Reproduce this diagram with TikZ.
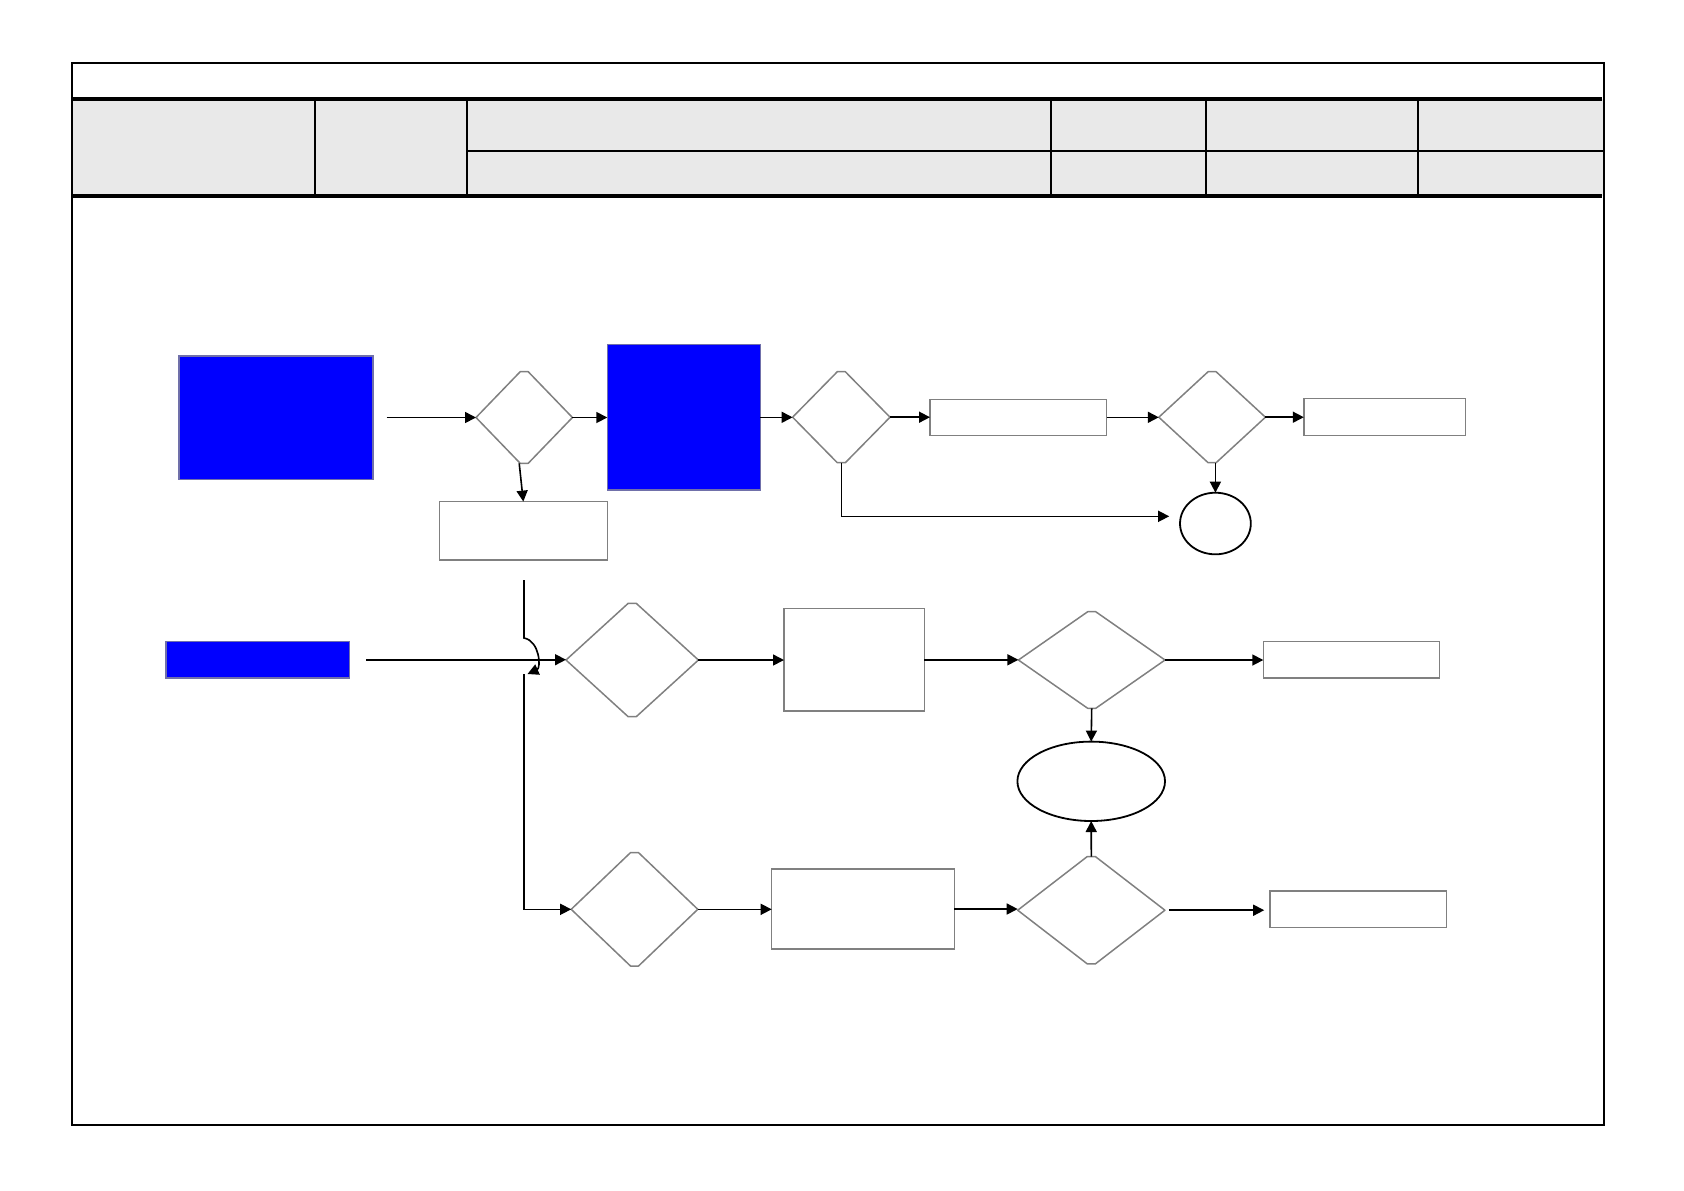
\documentclass[tikz,border=0pt]{standalone}
\usetikzlibrary{shapes.geometric,arrows.meta,calc}
\definecolor{headgray}{RGB}{233,233,233}
\definecolor{nodegray}{RGB}{128,128,128}
\definecolor{bborder}{RGB}{112,112,170}
\definecolor{pureblue}{RGB}{0,0,255}
\begin{document}
\begin{tikzpicture}[x=0.5pt,y=-0.5pt,
  every node/.style={inner sep=0pt, outer sep=0pt},
  bluebox/.style={rectangle, draw=bborder, fill=pureblue, line width=0.8pt},
  wbox/.style={rectangle, draw=nodegray, fill=white, line width=0.75pt},
  dia/.style={diamond, draw=none},
  oval/.style={ellipse, draw=black, line width=0.9pt},
  conn/.style={draw=black, line width=0.8pt},
  arr/.style={conn, -{Triangle[length=5.5pt,width=5.5pt]}},
  diaoutline/.style={draw=nodegray, line width=0.75pt, line join=round}
]
\useasboundingbox (0,0) rectangle (1684,1190);

% header table
\fill[headgray] (72,99) rectangle (1604,196);
\draw[line width=1.25pt] (72,63) rectangle (1604,1125);
\draw[line width=2pt] (72,99) -- (1602,99);
\draw[line width=2pt] (72,196) -- (1602,196);
\draw[line width=1.2pt] (467,151) -- (1604,151);
\foreach \xx in {315,467,1051,1206,1418}
  \draw[line width=1.2pt] (\xx,99) -- (\xx,196);

% nodes
\node[bluebox, minimum width=97pt, minimum height=61.8pt] (A) at (275.7,417.5) {};
\node[bluebox, minimum width=76.5pt, minimum height=72.7pt] (B) at (683.8,417.3) {};
\node[bluebox, minimum width=91.7pt, minimum height=18.3pt] (C) at (257.7,659.7) {};

\node[dia, minimum width=48.2pt, minimum height=45.8pt] (D1) at (524.2,417.5) {};
\node[dia, minimum width=48.7pt, minimum height=45.5pt] (D2) at (841.3,417.2) {};
\node[dia, minimum width=53.3pt, minimum height=45.5pt] (D3) at (1212.1,417.2) {};
\node[dia, minimum width=66.2pt, minimum height=56.7pt] (D4) at (632.2,660) {};
\node[dia, minimum width=63.3pt, minimum height=56.7pt] (D5) at (634.5,909.3) {};
\node[dia, minimum width=73.3pt, minimum height=48.3pt] (D6) at (1091.7,660) {};
\node[dia, minimum width=73.6pt, minimum height=53.7pt] (D7) at (1091.3,910.2) {};

\node[wbox, minimum width=88.3pt, minimum height=18pt] (R1) at (1018.3,417.3) {};
\node[wbox, minimum width=80.8pt, minimum height=18.5pt] (R2) at (1384.6,416.8) {};
\node[wbox, minimum width=84pt, minimum height=29.2pt] (R3) at (523.3,530.8) {};
\node[wbox, minimum width=70.2pt, minimum height=51.2pt] (R4) at (854.2,659.8) {};
\node[wbox, minimum width=88pt, minimum height=18.2pt] (R5) at (1351.3,659.8) {};
\node[wbox, minimum width=91.3pt, minimum height=40pt] (R6) at (863,909) {};
\node[wbox, minimum width=88.1pt, minimum height=18.3pt] (R7) at (1358.3,909.1) {};

\node[oval, minimum width=35.4pt, minimum height=30.8pt] (E1) at (1215.4,523.5) {};
\node[oval, minimum width=73.8pt, minimum height=39.7pt] (E2) at (1091.2,781.3) {};

% diamond outlines with small flat tips
\foreach \d in {D1,D2,D3,D4,D5,D6,D7}
  \draw[diaoutline] (\d.west) -- ([xshift=-2pt]\d.north) -- ([xshift=2pt]\d.north)
    -- (\d.east) -- ([xshift=2pt]\d.south) -- ([xshift=-2pt]\d.south) -- cycle;

% connectors, upper row
\draw[arr, shorten <=7pt] (A.east) -- (A.east -| D1.west);
\draw[arr] (D1.east) -- (D1.east -| B.west);
\draw[arr] (B.east) -- (B.east -| D2.west);
\draw[arr] (D2.east) -- (D2.east -| R1.west);
\draw[arr] (R1.east) -- (R1.east -| D3.west);
\draw[arr] (D3.east) -- (D3.east -| R2.west);
\draw[arr] (E1.north |- D3.south) -- (E1.north);
\draw[arr] (D2.south) |- ([xshift=-5.4pt,yshift=3.6pt]E1.west);
\draw[arr] ([xshift=-2.5pt]D1.south) -- (R3.north);

% line with jump
\coordinate (jtop) at (524,580);
\coordinate (jarc) at (524,638);
\coordinate (jend) at (527.5,674);
\coordinate (jbot) at (524,674);
\draw[conn, -{Triangle[length=5.5pt,width=5.5pt]}] (jtop) -- (jarc)
  .. controls (540,641) and (541,668) .. (jend);
\draw[arr] (jbot) |- (D5.west);

% middle row
\draw[arr, shorten <=8.3pt] (C.east) -- (C.east -| D4.west);
\draw[arr] (D4.east) -- (D4.east -| R4.west);
\draw[arr] (R4.east) -- (R4.east -| D6.west);
\draw[arr] (D6.east) -- (D6.east -| R5.west);
\draw[arr] (D6.south) -- (E2.north);

% lower row
\draw[arr] (D5.east) -- (D5.east -| R6.west);
\draw[arr] (R6.east) -- (R6.east -| D7.west);
\draw[arr, shorten <=2pt, shorten >=3pt] (D7.east) -- (D7.east -| R7.west);
\draw[arr] (D7.north) -- (E2.south);
\end{tikzpicture}
\end{document}
